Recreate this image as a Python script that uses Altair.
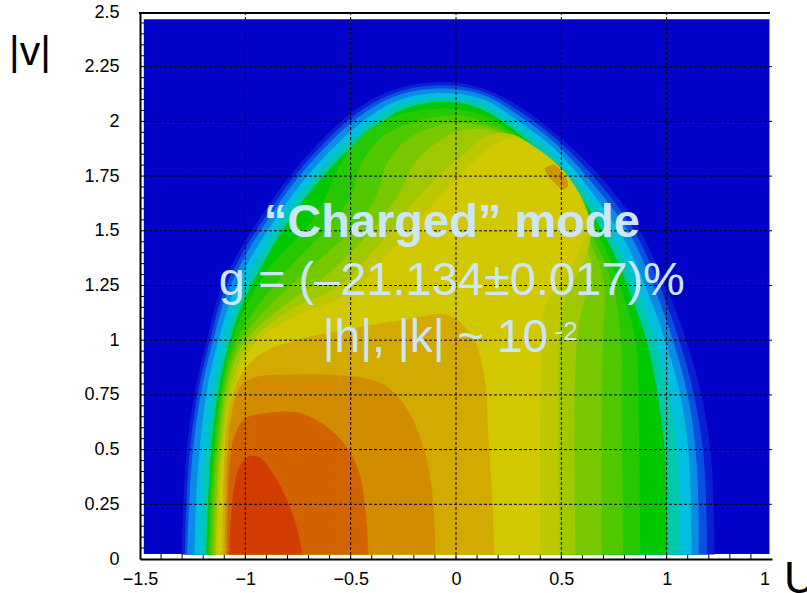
import altair as alt
import pandas as pd

# ---------------- data ----------------
LEVEL_COLORS = ["#0a1ed2", "#0a50e0", "#0a8ce6", "#00bede", "#00c8aa", "#00c800",
                "#28c800", "#50c800", "#78c800", "#a0c800", "#bec800", "#d2c800",
                "#d2aa00", "#d28c00", "#d26400", "#d23c00"]
BG_COLOR = "#0202c8"
BG_U = [-1.482, 1.488]
BG_V = [0.023, 2.467]

LEVEL_01 = [(-1.300,0.02),(-1.290,0.30),(-1.270,0.55),(-1.230,0.80),(-1.180,1.00),(-1.120,1.22),(-1.020,1.42),(-0.900,1.60),(-0.780,1.76),(-0.620,1.93),(-0.480,2.05),(-0.330,2.13),(-0.180,2.17),(0.000,2.175),(0.150,2.14),(0.310,2.06),(0.500,1.92),(0.700,1.73),(0.860,1.52),(0.980,1.28),(1.080,1.03),(1.160,0.76),(1.205,0.50),(1.220,0.25),(1.225,0.02)]
LEVEL_02 = [(-1.285,0.02),(-1.275,0.30),(-1.255,0.55),(-1.215,0.80),(-1.165,1.00),(-1.105,1.21),(-1.005,1.41),(-0.885,1.59),(-0.765,1.75),(-0.605,1.92),(-0.470,2.035),(-0.325,2.115),(-0.180,2.155),(0.000,2.16),(0.150,2.125),(0.300,2.045),(0.490,1.905),(0.680,1.715),(0.840,1.505),(0.955,1.27),(1.050,1.02),(1.125,0.76),(1.170,0.50),(1.185,0.25),(1.190,0.02)]
LEVEL_03 = [(-1.274,0.02),(-1.262,0.30),(-1.240,0.55),(-1.200,0.80),(-1.150,1.00),(-1.090,1.20),(-0.990,1.40),(-0.870,1.58),(-0.750,1.74),(-0.590,1.91),(-0.460,2.02),(-0.320,2.10),(-0.180,2.14),(0.000,2.145),(0.150,2.11),(0.290,2.03),(0.480,1.89),(0.660,1.70),(0.820,1.49),(0.930,1.26),(1.020,1.02),(1.095,0.76),(1.135,0.50),(1.148,0.25),(1.150,0.02)]
LEVEL_04 = [(-1.240,0.02),(-1.230,0.30),(-1.210,0.55),(-1.175,0.80),(-1.125,1.00),(-1.065,1.19),(-0.970,1.38),(-0.850,1.56),(-0.730,1.72),(-0.570,1.89),(-0.440,2.00),(-0.310,2.08),(-0.170,2.12),(0.000,2.125),(0.150,2.09),(0.280,2.01),(0.470,1.87),(0.640,1.68),(0.790,1.47),(0.900,1.24),(0.990,1.00),(1.060,0.76),(1.100,0.50),(1.113,0.25),(1.117,0.02)]
LEVEL_05 = [(-1.207,0.02),(-1.197,0.30),(-1.180,0.55),(-1.145,0.80),(-1.095,1.00),(-1.035,1.18),(-0.945,1.36),(-0.830,1.54),(-0.710,1.70),(-0.550,1.87),(-0.420,1.98),(-0.300,2.06),(-0.160,2.10),(0.000,2.105),(0.140,2.07),(0.270,1.99),(0.450,1.85),(0.620,1.66),(0.760,1.45),(0.860,1.22),(0.950,0.98),(1.010,0.74),(1.045,0.50),(1.057,0.25),(1.060,0.02)]
LEVEL_06 = [(-1.183,0.02),(-1.173,0.30),(-1.155,0.55),(-1.120,0.80),(-1.070,1.00),(-1.010,1.17),(-0.920,1.34),(-0.810,1.52),(-0.690,1.68),(-0.530,1.85),(-0.400,1.96),(-0.280,2.04),(-0.150,2.08),(0.000,2.085),(0.130,2.05),(0.260,1.97),(0.430,1.83),(0.600,1.64),(0.730,1.43),(0.830,1.20),(0.910,0.97),(0.960,0.72),(0.990,0.48),(0.998,0.25),(1.000,0.02)]
LEVEL_07 = [(-1.175,0.02),(-1.165,0.30),(-1.145,0.55),(-1.110,0.80),(-1.060,1.00),(-0.970,1.20),(-0.860,1.36),(-0.720,1.50),(-0.620,1.65),(-0.550,1.80),(-0.450,1.93),(-0.300,2.02),(-0.150,2.05),(0.000,2.055),(0.130,2.025),(0.260,1.955),(0.420,1.82),(0.580,1.63),(0.700,1.43),(0.790,1.21),(0.850,1.00),(0.865,0.60),(0.872,0.02)]
LEVEL_08 = [(-1.165,0.02),(-1.155,0.30),(-1.135,0.55),(-1.100,0.80),(-1.040,1.00),(-0.920,1.18),(-0.780,1.34),(-0.620,1.50),(-0.500,1.65),(-0.450,1.80),(-0.360,1.92),(-0.220,1.99),(-0.080,2.02),(0.050,2.02),(0.150,1.99),(0.260,1.94),(0.410,1.81),(0.560,1.62),(0.670,1.43),(0.750,1.22),(0.780,1.00),(0.785,0.60),(0.790,0.02)]
LEVEL_09 = [(-1.155,0.02),(-1.145,0.30),(-1.125,0.55),(-1.090,0.80),(-1.025,0.99),(-0.880,1.16),(-0.700,1.32),(-0.500,1.50),(-0.380,1.65),(-0.330,1.80),(-0.250,1.90),(-0.120,1.97),(0.000,1.99),(0.140,1.975),(0.260,1.93),(0.400,1.80),(0.540,1.62),(0.640,1.44),(0.700,1.25),(0.695,1.00),(0.690,0.60),(0.690,0.02)]
LEVEL_10 = [(-1.145,0.02),(-1.135,0.30),(-1.115,0.55),(-1.080,0.80),(-1.010,0.98),(-0.840,1.14),(-0.620,1.29),(-0.400,1.50),(-0.280,1.65),(-0.200,1.80),(-0.120,1.88),(0.000,1.95),(0.140,1.96),(0.260,1.92),(0.390,1.80),(0.520,1.63),(0.610,1.46),(0.640,1.30),(0.590,1.12),(0.565,0.90),(0.564,0.02)]
LEVEL_11 = [(-1.138,0.02),(-1.128,0.30),(-1.105,0.55),(-1.070,0.78),(-0.990,0.97),(-0.800,1.13),(-0.550,1.25),(-0.310,1.50),(-0.180,1.65),(-0.060,1.77),(0.040,1.85),(0.140,1.93),(0.260,1.94),(0.390,1.87),(0.510,1.77),(0.600,1.64),(0.640,1.50),(0.600,1.35),(0.520,1.20),(0.490,1.05),(0.490,0.02)]
LEVEL_12 = [(-1.131,0.02),(-1.120,0.30),(-1.095,0.55),(-1.060,0.75),(-1.000,0.92),(-0.900,1.03),(-0.750,1.11),(-0.600,1.17),(-0.480,1.23),(-0.350,1.36),(-0.220,1.50),(-0.080,1.65),(0.050,1.78),(0.160,1.88),(0.270,1.92),(0.390,1.87),(0.500,1.78),(0.580,1.67),(0.620,1.54),(0.580,1.40),(0.500,1.27),(0.420,1.15),(0.400,0.80),(0.398,0.02)]
LEVEL_13 = [(-1.107,0.02),(-1.100,0.40),(-1.080,0.65),(-1.040,0.80),(-0.980,0.89),(-0.900,0.95),(-0.750,1.00),(-0.500,1.05),(-0.250,1.09),(-0.050,1.115),(0.030,1.07),(0.090,0.99),(0.137,0.80),(0.150,0.575),(0.170,0.27),(0.180,0.02)]
LEVEL_14 = [(-1.095,0.02),(-1.085,0.45),(-1.060,0.68),(-1.020,0.79),(-0.950,0.83),(-0.800,0.84),(-0.600,0.84),(-0.420,0.82),(-0.320,0.78),(-0.220,0.66),(-0.140,0.45),(-0.110,0.25),(-0.100,0.02)]
LEVEL_15 = [(-1.085,0.02),(-1.075,0.40),(-1.050,0.56),(-1.000,0.64),(-0.900,0.665),(-0.740,0.665),(-0.610,0.60),(-0.520,0.51),(-0.460,0.39),(-0.430,0.20),(-0.418,0.02)]
LEVEL_16 = [(-1.074,0.02),(-1.065,0.20),(-1.050,0.33),(-1.027,0.42),(-0.980,0.467),(-0.930,0.46),(-0.870,0.39),(-0.805,0.27),(-0.760,0.15),(-0.730,0.02)]
ISLAND = [(0.420,1.785),(0.460,1.80),(0.500,1.77),(0.530,1.71),(0.510,1.69),(0.470,1.72),(0.430,1.76)]
ISLAND_COLOR = "#cc9600"

GRID_U = [-1.0, -0.5, 0.0, 0.5, 1.0]
GRID_V = [0.25, 0.5, 0.75, 1.0, 1.25, 1.5, 1.75, 2.0, 2.25]
X_TICKS = [-1.5, -1.0, -0.5, 0.0, 0.5, 1.0, 1.5]
Y_TICKS = [0, 0.25, 0.5, 0.75, 1.0, 1.25, 1.5, 1.75, 2.0, 2.25, 2.5]
X_MINOR = [-1.4, -1.3, -1.2, -1.1, -1.0, -0.9, -0.8, -0.7, -0.6, -0.5, -0.4, -0.3, -0.2, -0.1, 0.0,
           0.1, 0.2, 0.3, 0.4, 0.5, 0.6, 0.7, 0.8, 0.9, 1.0, 1.1, 1.2, 1.3, 1.4]
Y_MINOR = [0.05, 0.1, 0.15, 0.2, 0.25, 0.3, 0.35, 0.4, 0.45, 0.5, 0.55, 0.6, 0.65, 0.7, 0.75, 0.8,
           0.85, 0.9, 0.95, 1.0, 1.05, 1.1, 1.15, 1.2, 1.25, 1.3, 1.35, 1.4, 1.45, 1.5, 1.55, 1.6,
           1.65, 1.7, 1.75, 1.8, 1.85, 1.9, 1.95, 2.0, 2.05, 2.1, 2.15, 2.2, 2.25, 2.3, 2.35, 2.4, 2.45]

TEXT_LINES = ["\u201cCharged\u201d mode", "g = (\u201321.134\u00b10.017)%"]
TEXT_U = [-0.02, -0.02]
TEXT_V = [1.472, 1.207]
LINE3 = "|h|, |k| ~ 10"
LINE3_U = -0.633
LINE3_V = 0.9465
SUP = "-2"
SUP_U = 0.468
SUP_V = 1.0
TEXT_COLOR = "#cce6f8"

# ---------------- chart ----------------
W, H = 632, 547
FONT = "Liberation Sans"
xs = alt.Scale(domain=[-1.5, 1.5], nice=False, zero=False)
ys = alt.Scale(domain=[0, 2.5], nice=False, zero=False)

X_AXIS = alt.Axis(values=X_TICKS, format=".3~g", grid=False, ticks=False, tickSize=0,
                  domain=True, domainColor="black", domainWidth=2,
                  labelFont=FONT, labelFontSize=18, labelColor="black", labelPadding=11,
                  labelFlush=False, labelOverlap=False, title=None, zindex=0)
Y_AXIS = alt.Axis(values=Y_TICKS, format=".3~g", grid=False, ticks=False, tickSize=0,
                  domain=True, domainColor="black", domainWidth=2,
                  labelFont=FONT, labelFontSize=18, labelColor="black", labelPadding=21,
                  labelFlush=False, labelOverlap=False, title=None, zindex=0)


def X(field):
    return alt.X(field, scale=xs, axis=X_AXIS, title=None)


def Y(field):
    return alt.Y(field, scale=ys, axis=Y_AXIS, title=None)


def poly_df(pts):
    return pd.DataFrame({"u": [p[0] for p in pts], "v": [p[1] for p in pts],
                         "i": list(range(len(pts)))})


layers = []

# minor ticks pointing into the frame (visible in the white margin only)
layers.append(alt.Chart(pd.DataFrame({"u": X_MINOR})).mark_rule(color="black", strokeWidth=1).encode(
    x=X("u:Q"), y=alt.value(H - 6), y2=alt.value(H)))
layers.append(alt.Chart(pd.DataFrame({"v": Y_MINOR})).mark_rule(color="black", strokeWidth=1).encode(
    y=Y("v:Q"), x=alt.value(0), x2=alt.value(6)))
# background
layers.append(alt.Chart(pd.DataFrame({"u": [BG_U[0]], "u1": [BG_U[1]], "v": [BG_V[0]], "v1": [BG_V[1]]}))
              .mark_rect(color=BG_COLOR).encode(
    x=X("u:Q"), x2="u1:Q", y=Y("v:Q"), y2="v1:Q"))

levels = [LEVEL_01, LEVEL_02, LEVEL_03, LEVEL_04, LEVEL_05, LEVEL_06, LEVEL_07, LEVEL_08,
          LEVEL_09, LEVEL_10, LEVEL_11, LEVEL_12, LEVEL_13, LEVEL_14, LEVEL_15, LEVEL_16]
for pts, col in zip(levels + [ISLAND], LEVEL_COLORS + [ISLAND_COLOR]):
    layers.append(alt.Chart(poly_df(pts)).mark_line(
        fill=col, stroke=col, strokeWidth=1, interpolate="catmull-rom").encode(
        x=X("u:Q"), y=Y("v:Q"), order=alt.Order("i:Q")))

# dashed grid
layers.append(alt.Chart(pd.DataFrame({"u": GRID_U})).mark_rule(color="black", strokeWidth=1, strokeDash=[3, 2]).encode(
    x=X("u:Q")))
layers.append(alt.Chart(pd.DataFrame({"v": GRID_V})).mark_rule(color="black", strokeWidth=1, strokeDash=[3, 2]).encode(
    y=Y("v:Q")))
# top frame line
layers.append(alt.Chart(pd.DataFrame({"a": [0]})).mark_rule(color="black", strokeWidth=2).encode(
    x=alt.value(-1), x2=alt.value(W - 2), y=alt.value(1)))

# annotation text
tdf = pd.DataFrame({"t": TEXT_LINES, "u": TEXT_U, "v": TEXT_V})
layers.append(alt.Chart(tdf.iloc[[0]]).mark_text(
    font=FONT, fontSize=47, fontWeight="bold", color=TEXT_COLOR, align="center", baseline="alphabetic").encode(
    x=X("u:Q"), y=Y("v:Q"), text="t:N"))
layers.append(alt.Chart(tdf.iloc[[1]]).mark_text(
    font=FONT, fontSize=47, color=TEXT_COLOR, align="center", baseline="alphabetic").encode(
    x=X("u:Q"), y=Y("v:Q"), text="t:N"))
layers.append(alt.Chart(pd.DataFrame({"t": [LINE3], "u": [LINE3_U], "v": [LINE3_V]})).mark_text(
    font=FONT, fontSize=46, color=TEXT_COLOR, align="left", baseline="alphabetic").encode(
    x=X("u:Q"), y=Y("v:Q"), text="t:N"))
layers.append(alt.Chart(pd.DataFrame({"t": [SUP], "u": [SUP_U], "v": [SUP_V]})).mark_text(
    font=FONT, fontSize=26, color=TEXT_COLOR, align="left", baseline="alphabetic").encode(
    x=X("u:Q"), y=Y("v:Q"), text="t:N"))

# axis names
layers.append(alt.Chart(pd.DataFrame({"t": ["|v|"]})).mark_text(
    font=FONT, fontSize=41, color="black", align="center", baseline="alphabetic").encode(
    x=alt.value(-110), y=alt.value(53), text="t:N"))
layers.append(alt.Chart(pd.DataFrame({"a": [0]})).mark_rect(color="white").encode(
    x=alt.value(631), x2=alt.value(680), y=alt.value(H + 2), y2=alt.value(H + 40)))
layers.append(alt.Chart(pd.DataFrame({"t": ["U"]})).mark_text(
    font=FONT, fontSize=44, color="black", align="left", baseline="alphabetic").encode(
    x=alt.value(644), y=alt.value(H + 34), text="t:N"))

chart = alt.layer(*layers).properties(
    width=W, height=H,
    padding={"left": 140, "top": 12, "right": 35, "bottom": 34},
    autosize=alt.AutoSizeParams(type="none"),
).configure_view(stroke=None)

chart.save("out.html", embed_options={"renderer": "svg", "actions": False})
